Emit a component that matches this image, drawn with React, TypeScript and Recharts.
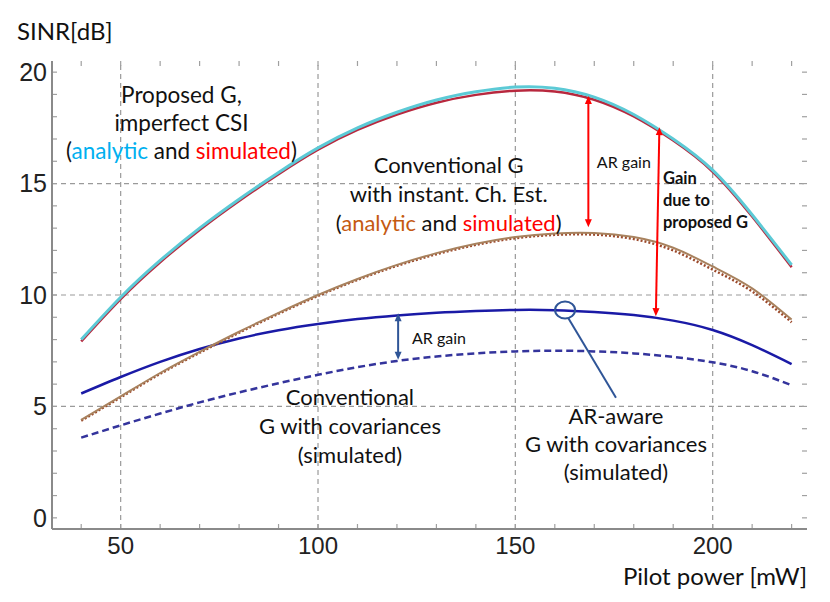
import React from 'react';
import { LineChart, Line, XAxis, YAxis, ReferenceLine, ReferenceDot } from 'recharts';

// pilot power [mW]
const power = [40, 50, 60, 70, 80, 90, 100, 110, 120, 130, 140, 150, 160, 170, 180, 190, 200, 210, 220];

// SINR [dB]
const proposedAnalytic = [8.0, 9.9, 11.55, 13.0, 14.3, 15.5, 16.6, 17.5, 18.2, 18.75, 19.12, 19.33, 19.28, 18.88, 18.1, 17.0, 15.6, 13.6, 11.35];
const proposedSimulated = [7.92, 9.82, 11.47, 12.92, 14.22, 15.42, 16.52, 17.41, 18.1, 18.63, 18.98, 19.17, 19.13, 18.76, 18.01, 16.93, 15.53, 13.52, 11.25];
const conventionalAnalytic = [4.4, 5.45, 6.5, 7.45, 8.35, 9.2, 10.0, 10.72, 11.35, 11.88, 12.3, 12.6, 12.76, 12.78, 12.6, 12.12, 11.28, 10.3, 8.9];
const conventionalSimulated = [4.36, 5.41, 6.46, 7.41, 8.31, 9.16, 9.96, 10.68, 11.31, 11.83, 12.25, 12.55, 12.7, 12.71, 12.51, 12.0, 11.14, 10.16, 8.78];
const arAwareCov = [5.58, 6.32, 7.0, 7.58, 8.05, 8.42, 8.7, 8.92, 9.08, 9.2, 9.28, 9.33, 9.32, 9.24, 9.1, 8.85, 8.43, 7.75, 6.9];
const conventionalCov = [3.6, 4.15, 4.68, 5.18, 5.63, 6.04, 6.42, 6.76, 7.04, 7.24, 7.38, 7.47, 7.5, 7.47, 7.38, 7.22, 6.98, 6.58, 5.95];

const xMinorTicks = [40, 50, 60, 70, 80, 90, 100, 110, 120, 130, 140, 150, 160, 170, 180, 190, 200, 210, 220];
const yMinorTicks = [0, 1, 2, 3, 4, 5, 6, 7, 8, 9, 10, 11, 12, 13, 14, 15, 16, 17, 18, 19, 20];
const xLabelTicks = [50, 100, 150, 200];
const yLabelTicks = [0, 5, 10, 15, 20];
const xGrid = [50, 100, 150, 200];
const yGrid = [5, 10, 15];

const X_DOMAIN: [number, number] = [32.6, 223.9];
const Y_DOMAIN: [number, number] = [-0.5, 20.5];
// inward tick length in data units (about 5px)
const TICK_DX = 1.27;
const TICK_DY = 0.224;

const data = power.map((p, i) => ({
  p,
  propA: proposedAnalytic[i],
  propS: proposedSimulated[i],
  convA: conventionalAnalytic[i],
  convS: conventionalSimulated[i],
  arCov: arAwareCov[i],
  convCov: conventionalCov[i],
}));

const TXT = 'Lato, "Open Sans", sans-serif';
const NUM = '"Liberation Sans", Arial, sans-serif';

// double-headed arrow drawn along a reference segment
const arrow = (color: string) => (props: any) => {
  const { x1, y1, x2, y2 } = props;
  const dx = x2 - x1;
  const dy = y2 - y1;
  const len = Math.hypot(dx, dy) || 1;
  const ux = dx / len;
  const uy = dy / len;
  const hl = 8;
  const hw = 3.5;
  const head = (tx: number, ty: number, a: number, b: number) =>
    `${tx},${ty} ${tx - a * hl - b * hw},${ty - b * hl + a * hw} ${tx - a * hl + b * hw},${ty - b * hl - a * hw}`;
  return (
    <g>
      <line x1={x1 + ux * 4} y1={y1 + uy * 4} x2={x2 - ux * 4} y2={y2 - uy * 4} stroke={color} strokeWidth={2} />
      <polygon points={head(x2, y2, ux, uy)} fill={color} />
      <polygon points={head(x1, y1, -ux, -uy)} fill={color} />
    </g>
  );
};

type Seg = { t: string; c?: string };
const textBlock = (lines: Seg[][], opts: { size: number; lh: number; anchor?: string; bold?: boolean }) => (props: any) => {
  const { cx, cy } = props;
  return (
    <text
      x={cx}
      y={cy}
      textAnchor={opts.anchor || 'middle'}
      fontFamily={TXT}
      fontSize={opts.size}
      fontWeight={opts.bold ? 700 : 400}
      fill="#111"
    >
      {lines.map((ln, i) => (
        <tspan key={i} x={cx} y={cy + i * opts.lh}>
          {ln.map((s, j) => (
            <tspan key={j} fill={s.c || '#111'}>{s.t}</tspan>
          ))}
        </tspan>
      ))}
    </text>
  );
};

const CYAN_TXT = '#00b0f0';
const RED_TXT = '#ff0000';
const BROWN_TXT = '#c55a11';
const TICK = '#a0a0a0';

const App = () => {
  return (
    <div style={{ position: 'absolute', left: 0, top: 0, width: 830, height: 602, background: '#fff' }}>
      <LineChart width={830} height={602} data={data} margin={{ top: 61, right: 23, left: 12, bottom: 33 }}>
        <XAxis
          xAxisId="b"
          dataKey="p"
          type="number"
          domain={X_DOMAIN}
          allowDataOverflow
          ticks={xLabelTicks}
          tickSize={0}
          tickMargin={8}
          tickLine={false}
          height={40}
          axisLine={{ stroke: '#8a8a8a', strokeWidth: 2 }}
          tick={{ fontFamily: NUM, fontSize: 24, fill: '#222' }}
          interval={0}
          label={{
            content: (p: any) => {
              const vb = p.viewBox;
              return (
                <text x={vb.x + vb.width} y={vb.y + 56} textAnchor="end" fontFamily={TXT} fontSize={24} fill="#111">
                  Pilot power [mW]
                </text>
              );
            },
          }}
        />
        <XAxis
          xAxisId="t"
          orientation="top"
          type="number"
          domain={X_DOMAIN}
          allowDataOverflow
          ticks={xLabelTicks}
          tick={false}
          tickLine={false}
          height={0}
          axisLine={{ stroke: '#b4b4b4', strokeWidth: 1.5 }}
        />
        <YAxis
          yAxisId="l"
          type="number"
          domain={Y_DOMAIN}
          allowDataOverflow
          ticks={yLabelTicks}
          tickSize={0}
          tickMargin={5}
          tickLine={false}
          width={40}
          axisLine={{ stroke: '#8a8a8a', strokeWidth: 2 }}
          tick={{ fontFamily: NUM, fontSize: 25, fill: '#222' }}
          interval={0}
          label={{
            content: (p: any) => {
              const vb = p.viewBox;
              return (
                <text x={vb.x + 5} y={vb.y - 21} fontFamily={TXT} fontSize={24} fill="#111">
                  SINR[dB]
                </text>
              );
            },
          }}
        />
        <YAxis
          yAxisId="r"
          orientation="right"
          type="number"
          domain={Y_DOMAIN}
          allowDataOverflow
          ticks={yLabelTicks}
          tick={false}
          tickLine={false}
          width={0}
          axisLine={{ stroke: '#b4b4b4', strokeWidth: 1.5 }}
        />

        {xGrid.map((x) => (
          <ReferenceLine key={'gx' + x} xAxisId="b" yAxisId="l" x={x} stroke="#9a9a9a" strokeWidth={1.2} strokeDasharray="5 4" />
        ))}
        {yGrid.map((y) => (
          <ReferenceLine key={'gy' + y} xAxisId="b" yAxisId="l" y={y} stroke="#9a9a9a" strokeWidth={1.2} strokeDasharray="5 4" />
        ))}

        {xMinorTicks.map((x) => (
          <ReferenceLine key={'tb' + x} xAxisId="b" yAxisId="l" ifOverflow="visible" stroke={TICK} strokeWidth={1.2}
            segment={[{ x, y: Y_DOMAIN[0] }, { x, y: Y_DOMAIN[0] + TICK_DY }]} />
        ))}
        {xMinorTicks.map((x) => (
          <ReferenceLine key={'tt' + x} xAxisId="b" yAxisId="l" ifOverflow="visible" stroke={TICK} strokeWidth={1.2}
            segment={[{ x, y: Y_DOMAIN[1] }, { x, y: Y_DOMAIN[1] - TICK_DY }]} />
        ))}
        {yMinorTicks.map((y) => (
          <ReferenceLine key={'tl' + y} xAxisId="b" yAxisId="l" ifOverflow="visible" stroke={TICK} strokeWidth={1.2}
            segment={[{ x: X_DOMAIN[0], y }, { x: X_DOMAIN[0] + TICK_DX, y }]} />
        ))}
        {yMinorTicks.map((y) => (
          <ReferenceLine key={'tr' + y} xAxisId="b" yAxisId="l" ifOverflow="visible" stroke={TICK} strokeWidth={1.2}
            segment={[{ x: X_DOMAIN[1], y }, { x: X_DOMAIN[1] - TICK_DX, y }]} />
        ))}

        <Line xAxisId="b" yAxisId="l" type="natural" dataKey="convCov" stroke="#34349c" strokeWidth={2.5} strokeDasharray="7 4" dot={false} isAnimationActive={false} />
        <Line xAxisId="b" yAxisId="l" type="natural" dataKey="arCov" stroke="#1a1aa6" strokeWidth={2.5} dot={false} isAnimationActive={false} />
        <Line xAxisId="b" yAxisId="l" type="natural" dataKey="convS" stroke="#9c4a2c" strokeWidth={2.5} strokeDasharray="2 2" dot={false} isAnimationActive={false} />
        <Line xAxisId="b" yAxisId="l" type="natural" dataKey="convA" stroke="#a8825e" strokeWidth={2} dot={false} isAnimationActive={false} />
        <Line xAxisId="b" yAxisId="l" type="natural" dataKey="propS" stroke="#b8283e" strokeWidth={2.5} dot={false} isAnimationActive={false} />
        <Line xAxisId="b" yAxisId="l" type="natural" dataKey="propA" stroke="#5ccad6" strokeWidth={3} dot={false} isAnimationActive={false} />

        <ReferenceLine xAxisId="b" yAxisId="l" segment={[{ x: 168.5, y: 18.93 }, { x: 168.5, y: 13.04 }]} shape={arrow('#ff0000')} ifOverflow="visible" />
        <ReferenceLine xAxisId="b" yAxisId="l" segment={[{ x: 186.5, y: 17.53 }, { x: 185.6, y: 9.05 }]} shape={arrow('#ff0000')} ifOverflow="visible" />
        <ReferenceLine xAxisId="b" yAxisId="l" segment={[{ x: 120.3, y: 9.18 }, { x: 120.3, y: 7.09 }]} shape={arrow('#2f5597')} ifOverflow="visible" />
        <ReferenceLine xAxisId="b" yAxisId="l" segment={[{ x: 163.4, y: 8.97 }, { x: 175.5, y: 5.39 }]} stroke="#2f5597" strokeWidth={2} ifOverflow="visible" />
        <ReferenceDot
          xAxisId="b"
          yAxisId="l"
          x={162.6}
          y={9.33}
          r={0}
          ifOverflow="visible"
          shape={(p: any) => <ellipse cx={p.cx} cy={p.cy} rx={10} ry={8.5} fill="none" stroke="#2f5597" strokeWidth={2} />}
        />

        <ReferenceDot
          xAxisId="b" yAxisId="l" x={65.4} y={18.62} r={0} ifOverflow="visible"
          shape={textBlock(
            [
              [{ t: 'Proposed G,' }],
              [{ t: 'imperfect CSI' }],
              [{ t: '(' }, { t: 'analytic', c: CYAN_TXT }, { t: ' and ' }, { t: 'simulated', c: RED_TXT }, { t: ')' }],
            ],
            { size: 22.5, lh: 28 }
          )}
        />
        <ReferenceDot
          xAxisId="b" yAxisId="l" x={133.1} y={15.48} r={0} ifOverflow="visible"
          shape={textBlock(
            [
              [{ t: 'Conventional G' }],
              [{ t: 'with instant. Ch. Est.' }],
              [{ t: '(' }, { t: 'analytic', c: BROWN_TXT }, { t: ' and ' }, { t: 'simulated', c: RED_TXT }, { t: ')' }],
            ],
            { size: 22, lh: 29 }
          )}
        />
        <ReferenceDot
          xAxisId="b" yAxisId="l" x={177.5} y={15.7} r={0} ifOverflow="visible"
          shape={textBlock([[{ t: 'AR gain' }]], { size: 16, lh: 20 })}
        />
        <ReferenceDot
          xAxisId="b" yAxisId="l" x={187.4} y={14.98} r={0} ifOverflow="visible"
          shape={textBlock([[{ t: 'Gain' }], [{ t: 'due to' }], [{ t: 'proposed G' }]], { size: 16.5, lh: 22, anchor: 'start', bold: true })}
        />
        <ReferenceDot
          xAxisId="b" yAxisId="l" x={130.65} y={7.8} r={0} ifOverflow="visible"
          shape={textBlock([[{ t: 'AR gain' }]], { size: 16, lh: 20 })}
        />
        <ReferenceDot
          xAxisId="b" yAxisId="l" x={108.1} y={5.07} r={0} ifOverflow="visible"
          shape={textBlock([[{ t: 'Conventional' }], [{ t: 'G with covariances' }], [{ t: '(simulated)' }]], { size: 22, lh: 29 })}
        />
        <ReferenceDot
          xAxisId="b" yAxisId="l" x={175.5} y={4.21} r={0} ifOverflow="visible"
          shape={textBlock([[{ t: 'AR-aware' }], [{ t: 'G with covariances' }], [{ t: '(simulated)' }]], { size: 22, lh: 28 })}
        />
      </LineChart>
    </div>
  );
};

export default App;
